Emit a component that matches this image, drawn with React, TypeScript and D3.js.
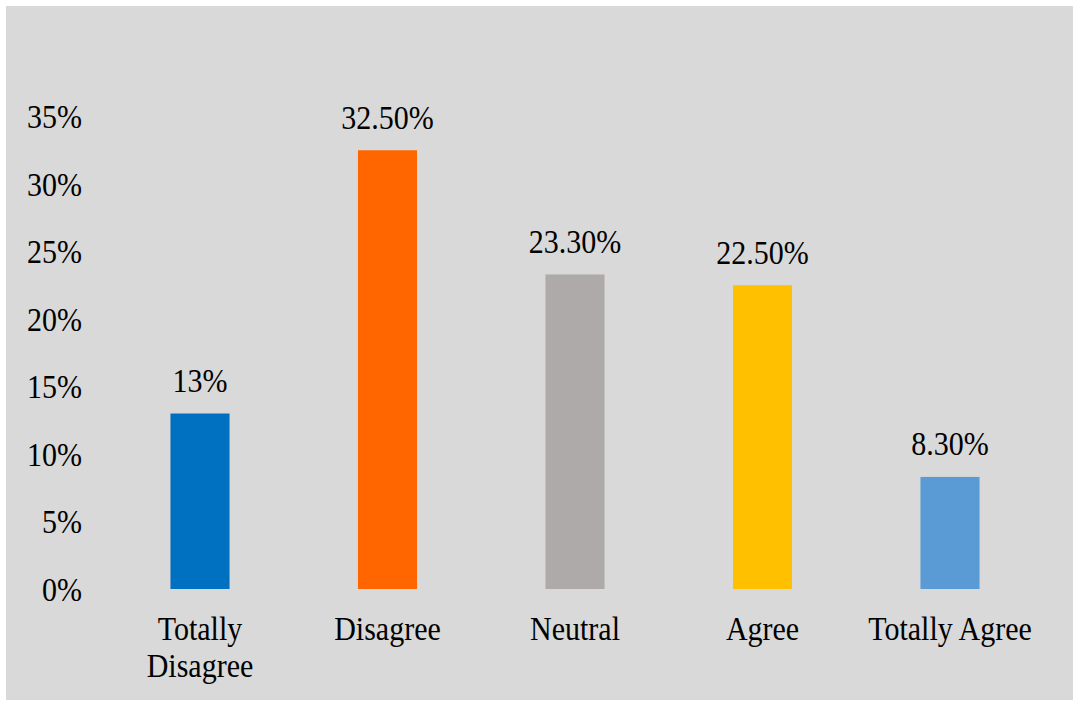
import React from "react";
import * as d3 from "d3";

const categories = ["Totally Disagree", "Disagree", "Neutral", "Agree", "Totally Agree"];
const values = [13, 32.5, 23.3, 22.5, 8.3];
const valueLabels = ["13%", "32.50%", "23.30%", "22.50%", "8.30%"];
const colors = ["#0070c0", "#ff6600", "#aeaaaa", "#ffc000", "#5b9bd5"];
const yTicks = [0, 5, 10, 15, 20, 25, 30, 35];

const font = "Liberation Serif";
const fs = 30;

function Label({ x, y, anchor, children }: { x: number; y: number; anchor: string; children: React.ReactNode }) {
  return (
    <g transform={`translate(${x},${y}) scale(1,1.13)`}>
      <text x={0} y={0} dy="0.35em" textAnchor={anchor} fontFamily={font} fontSize={fs} fill="#000">
        {children}
      </text>
    </g>
  );
}

export default function App() {
  const W = 1073, H = 702;
  const x = d3.scaleBand<string>().domain(categories).range([106.25, 1043.75]).paddingInner(0.685).paddingOuter(0.3425);
  const y = d3.scaleLinear().domain([0, 35]).range([589, 116.5]);
  return (
    <svg width={W} height={H} style={{ position: "absolute", left: 0, top: 0 }}>
      <rect x={0} y={0} width={W} height={H} fill="#ffffff" />
      <rect x={6} y={6} width={W - 6} height={694} fill="#d9d9d9" />
      {yTicks.map((t) => (
        <Label key={t} x={82} y={y(t)} anchor="end">{t + "%"}</Label>
      ))}
      {categories.map((c, i) => {
        const bx = x(c)!;
        const bw = x.bandwidth();
        const cx = bx + bw / 2;
        const words = c === "Totally Disagree" ? ["Totally", "Disagree"] : [c];
        return (
          <g key={c}>
            <rect x={bx} y={y(values[i])} width={bw} height={y(0) - y(values[i])} fill={colors[i]} />
            <Label x={cx} y={y(values[i]) - 33.5} anchor="middle">{valueLabels[i]}</Label>
            {words.map((w, j) => (
              <Label key={w} x={cx} y={628 + j * 37} anchor="middle">{w}</Label>
            ))}
          </g>
        );
      })}
    </svg>
  );
}
